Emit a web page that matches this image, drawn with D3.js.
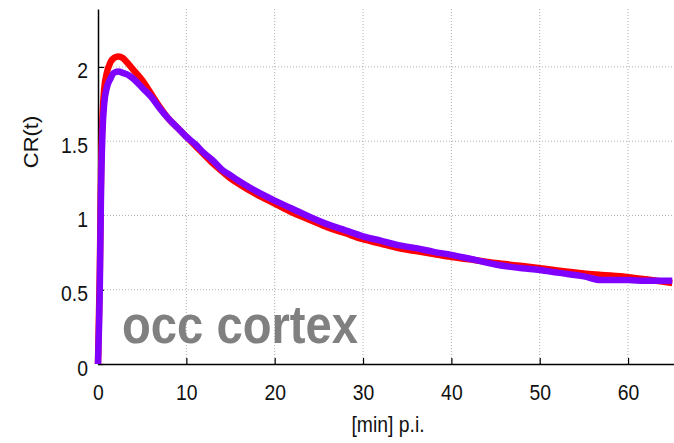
<!DOCTYPE html>
<html>
<head>
<meta charset="utf-8">
<script src="https://cdn.jsdelivr.net/npm/d3@7"></script>
<style>
  body { margin: 0; background: #fff; }
  svg { display: block; font-family: "Liberation Sans", Arial, sans-serif; }
</style>
</head>
<body>
<svg id="chart"></svg>
<script>
// Time points (minutes p.i.)
const times = [0, 0.2, 0.35, 0.5, 0.7, 1.0, 1.4, 1.8, 2.3, 2.8, 3.3, 4, 5, 6, 7, 8, 9, 10, 11, 12, 13, 14, 15, 16, 18, 20, 22, 24, 26, 28, 30, 32, 34, 36, 38, 40, 42, 45, 48, 50, 52, 55, 57, 60, 62, 65];
// Red curve
const redValues = [0, 0.6, 1.3, 1.65, 1.85, 1.96, 2.03, 2.06, 2.07, 2.06, 2.03, 1.98, 1.91, 1.82, 1.73, 1.65, 1.59, 1.53, 1.47, 1.41, 1.35, 1.3, 1.25, 1.21, 1.14, 1.08, 1.02, 0.97, 0.92, 0.88, 0.84, 0.81, 0.78, 0.76, 0.74, 0.72, 0.705, 0.68, 0.66, 0.645, 0.63, 0.61, 0.6, 0.585, 0.57, 0.545];
// Purple curve
const purpleValues = [0, 0.5, 1.2, 1.55, 1.75, 1.86, 1.92, 1.96, 1.97, 1.96, 1.95, 1.92, 1.86, 1.8, 1.72, 1.65, 1.59, 1.53, 1.48, 1.42, 1.37, 1.31, 1.27, 1.23, 1.16, 1.1, 1.045, 0.99, 0.94, 0.9, 0.86, 0.83, 0.8, 0.78, 0.755, 0.735, 0.71, 0.67, 0.645, 0.633, 0.615, 0.59, 0.565, 0.565, 0.56, 0.56];
// Ticks
const xTicks = [0, 10, 20, 30, 40, 50, 60];
const yTicks = [0, 0.5, 1, 1.5, 2];

const W = 674, H = 443;
const plotLeft = 98, plotTop = 9, plotBottom = 364;
const squeeze = 0.88; // the original text looks a bit narrow

const svg = d3.select("#chart").attr("width", W).attr("height", H);

// Scales
const x = d3.scaleLinear().domain([0, 65.2]).range([plotLeft, W]);
const y = d3.scaleLinear().domain([0, 2.39]).range([plotBottom, plotTop]);

// Grid (dotted)
const grid = svg.append("g").attr("stroke", "#b0b0b0").attr("stroke-width", 1).attr("stroke-dasharray", "1,2");
grid.selectAll(".vg").data(xTicks.filter(d => d > 0)).enter().append("line")
  .attr("x1", d => x(d)).attr("x2", d => x(d))
  .attr("y1", plotTop).attr("y2", plotBottom);
grid.selectAll(".hg").data(yTicks.filter(d => d > 0)).enter().append("line")
  .attr("x1", plotLeft).attr("x2", W)
  .attr("y1", d => y(d)).attr("y2", d => y(d));

// Axes (ticks point inward)
const xAxisGroup = svg.append("g")
  .attr("transform", `translate(0,${plotBottom})`)
  .call(d3.axisBottom(x).tickValues(xTicks).tickFormat(d3.format("d")).tickSizeInner(-6).tickSizeOuter(0));
const yAxisGroup = svg.append("g")
  .attr("transform", `translate(${plotLeft},0)`)
  .call(d3.axisLeft(y).tickValues(yTicks).tickFormat(d => String(d)).tickSizeInner(-6).tickSizeOuter(0));

[xAxisGroup, yAxisGroup].forEach(g => {
  g.select(".domain").attr("stroke", "#000").attr("stroke-width", 1.5);
  g.selectAll(".tick line").attr("stroke", "#000").attr("stroke-width", 1.2);
  g.selectAll(".tick text").attr("fill", "#111").style("font-size", "22px").attr("dy", 0);
});
xAxisGroup.selectAll(".tick text")
  .attr("y", 0).attr("x", 0)
  .attr("transform", `translate(0,36) scale(${squeeze},1)`);
yAxisGroup.selectAll(".tick text")
  .attr("x", 0).attr("y", 0)
  .attr("text-anchor", "end")
  .attr("transform", `translate(-10,11) scale(${squeeze},1)`);

// Curves
const line = values => d3.line()
  .x((d, i) => x(times[i]))
  .y(d => y(d))
  .curve(d3.curveMonotoneX)(values);

svg.append("path").attr("d", line(redValues))
  .attr("fill", "none").attr("stroke", "#ff0000").attr("stroke-width", 6.5)
  .attr("stroke-linejoin", "round");
svg.append("path").attr("d", line(purpleValues))
  .attr("fill", "none").attr("stroke", "#7f00ff").attr("stroke-width", 6.5)
  .attr("stroke-linejoin", "round");

// Labels
svg.append("text")
  .attr("transform", `translate(388,432) scale(${squeeze},1)`)
  .attr("text-anchor", "middle").style("font-size", "22px").attr("fill", "#111")
  .text("[min] p.i.");

svg.append("text")
  .attr("transform", `translate(38,142) rotate(-90) scale(1,${squeeze})`)
  .attr("text-anchor", "middle").style("font-size", "22px").attr("fill", "#111")
  .text("CR(t)");

svg.append("text")
  .attr("transform", `translate(122,343) scale(0.874,1)`)
  .style("font-size", "54px").style("font-weight", "bold").attr("fill", "#808080")
  .text("occ cortex");
</script>
</body>
</html>
